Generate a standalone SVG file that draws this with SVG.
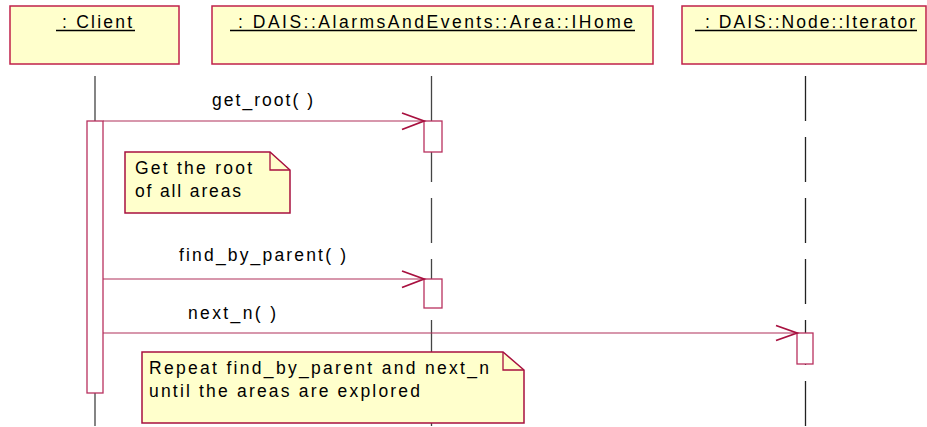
<svg xmlns="http://www.w3.org/2000/svg" width="927" height="427" viewBox="0 0 927 427">
<style>
  text { font-family: "Liberation Sans", Arial, sans-serif; font-size: 17.5px; fill: #000; }
  .obj { fill: #ffffcc; stroke: #c0204a; stroke-width: 1.5; }
  .ul { stroke: #000; stroke-width: 1.3; }
  .life { stroke: #444; stroke-width: 1.3; stroke-dasharray: 45 16; fill: none; }
  .act { fill: #fff; stroke: #b8305e; stroke-width: 1.3; }
  .msg { stroke: #b0305a; stroke-width: 1.2; fill: none; }
  .head { stroke: #a8103f; stroke-width: 1.8; fill: none; }
  .note { fill: #ffffcc; stroke: #a8103f; stroke-width: 1.5; }
  .fold { fill: none; stroke: #a8103f; stroke-width: 1.3; }
</style>
<rect width="927" height="427" fill="#fff"/>

<g id="lifelines">
  <line class="life" x1="95" y1="76" x2="95" y2="427"/>
  <line class="life" x1="431.5" y1="76" x2="431.5" y2="427"/>
  <line class="life" x1="805.5" y1="76" x2="805.5" y2="427" style="stroke:#222"/>
</g>

<g id="client">
  <rect class="obj" x="10" y="6" width="169" height="58"/>
  <text x="62" y="27.5" textLength="70" lengthAdjust="spacing">:  Client</text>
  <line class="ul" x1="56" y1="30.5" x2="135" y2="30.5"/>
</g>
<g id="ihome">
  <rect class="obj" x="212" y="6" width="441" height="58"/>
  <text x="238" y="27.5" textLength="395" lengthAdjust="spacing">: DAIS::AlarmsAndEvents::Area::IHome</text>
  <line class="ul" x1="230" y1="30.5" x2="635" y2="30.5"/>
</g>
<g id="iterator">
  <rect class="obj" x="682" y="6" width="244" height="58"/>
  <text x="705" y="27.5" textLength="210" lengthAdjust="spacing">: DAIS::Node::Iterator</text>
  <line class="ul" x1="695" y1="30.5" x2="917" y2="30.5"/>
</g>

<g id="activations">
  <rect class="act" x="87" y="121" width="16" height="272"/>
  <rect class="act" x="424" y="121" width="18" height="31"/>
  <rect class="act" x="424" y="279" width="18" height="29"/>
  <rect class="act" x="797" y="333" width="16" height="31"/>
</g>

<g id="connectors">
  <line class="msg" x1="103" y1="121" x2="424" y2="121"/>
  <polyline class="head" points="402,113 424,121 402,129.5"/>
  <text x="212" y="106" textLength="101" lengthAdjust="spacing">get_root( )</text>

  <line class="msg" x1="103" y1="279" x2="424" y2="279"/>
  <polyline class="head" points="402,271 424,279 402,287.5"/>
  <text x="179" y="261" textLength="167" lengthAdjust="spacing">find_by_parent( )</text>

  <line class="msg" x1="103" y1="333" x2="797" y2="333"/>
  <polyline class="head" points="776,325.5 797,333 776,340.5"/>
  <text x="188" y="318.5" textLength="88" lengthAdjust="spacing">next_n( )</text>
</g>

<g id="note1">
  <path class="note" d="M125,152 H270 L290,170 V213 H125 Z"/>
  <polyline class="fold" points="270,152 270,170 290,170"/>
  <text x="135" y="173.5" textLength="117" lengthAdjust="spacing">Get the root</text>
  <text x="135" y="196.5" textLength="106" lengthAdjust="spacing">of all areas</text>
</g>
<g id="note2">
  <path class="note" d="M142,352 H503 L524,370 V423 H142 Z"/>
  <polyline class="fold" points="503,352 503,370 524,370"/>
  <text x="149" y="373.5" textLength="340" lengthAdjust="spacing">Repeat find_by_parent and next_n</text>
  <text x="149" y="396.5" textLength="271" lengthAdjust="spacing">until the areas are explored</text>
</g>
</svg>
